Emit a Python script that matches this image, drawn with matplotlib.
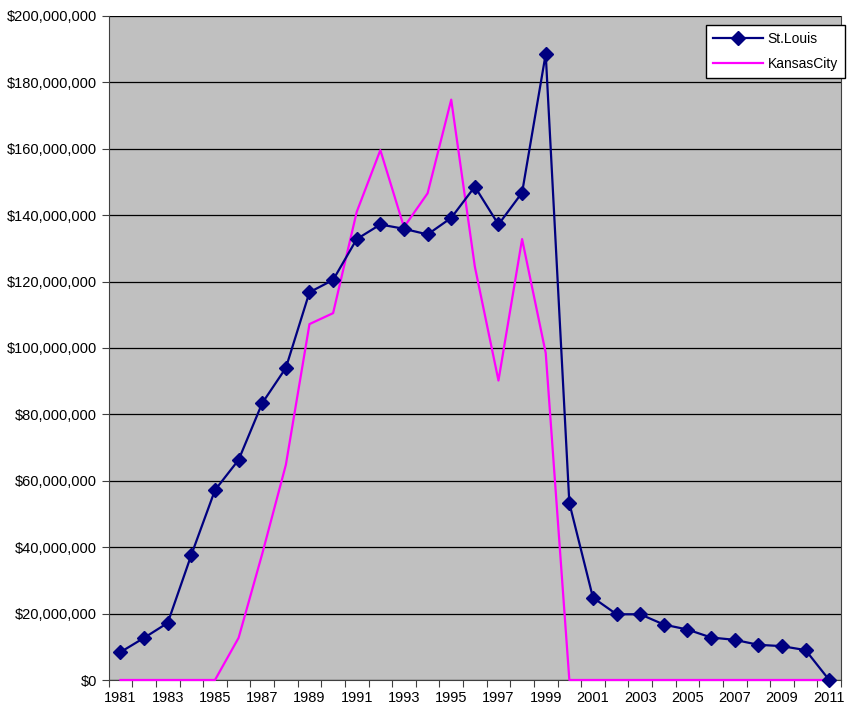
import matplotlib
matplotlib.use("Agg")
import matplotlib.pyplot as plt
from matplotlib.ticker import FuncFormatter, MultipleLocator

plt.rcParams["font.family"] = ["Liberation Sans", "DejaVu Sans"]

years = list(range(1981, 2012))

# dollars per year, in millions
st_louis = [8.4, 12.7, 17.2, 37.7, 57.2, 66.3, 83.4, 94.0, 116.8, 120.5,
            132.8, 137.2, 135.9, 134.2, 139.2, 148.6, 137.2, 146.8, 188.6, 53.3,
            24.8, 19.8, 19.8, 16.7, 15.2, 12.8, 12.1, 10.6, 10.2, 9.0, 0.0]
kansas_city = [0, 0, 0, 0, 0, 12.7, 38.0, 64.8, 107.2, 110.5,
               141.0, 159.6, 136.4, 146.6, 174.8, 124.5, 90.2, 132.8, 98.5, 0,
               0, 0, 0, 0, 0, 0, 0, 0, 0, 0, 0]

st_louis = [v * 1e6 for v in st_louis]
kansas_city = [v * 1e6 for v in kansas_city]

fig = plt.figure(figsize=(8.49, 7.11), dpi=100)
ax = fig.add_axes([0.128, 0.0436, 0.8626, 0.9339])
ax.set_facecolor("#C0C0C0")

ax.plot(years, st_louis, color="#000080", lw=1.6, marker="D", ms=7.5,
        label="St.Louis", zorder=3, clip_on=False)
# drawn over the bottom spine so the zero stretches stay visible
ax.plot(years, kansas_city, color="#FF00FF", lw=1.6, label="KansasCity",
        zorder=2.6, clip_on=False)

ax.set_xlim(1980.5, 2011.5)
ax.set_ylim(0, 200e6)

ax.yaxis.set_major_locator(MultipleLocator(20e6))
ax.yaxis.set_major_formatter(FuncFormatter(lambda v, p: "${:,.0f}".format(v)))
ax.grid(axis="y", color="black", lw=0.9)
ax.set_axisbelow(True)

# ticks sit between years, labels on every other year
ax.set_xticks([y + 0.5 for y in range(1980, 2012)])
ax.set_xticklabels([])
ax.set_xticks(years[::2], minor=True)
ax.set_xticklabels([str(y) for y in years[::2]], minor=True)
ax.tick_params(axis="x", which="minor", length=0, labelsize=10.5, pad=8)
ax.tick_params(axis="x", which="major", length=5, color="#404040")
ax.tick_params(axis="y", length=5, labelsize=10.5, color="#404040")

ax.spines["top"].set_visible(False)
for s in ["left", "bottom", "right"]:
    ax.spines[s].set_color("#404040")

leg = ax.legend(loc="upper right", bbox_to_anchor=(1.005, 0.986), fontsize=10,
                fancybox=False, framealpha=1, edgecolor="black",
                borderaxespad=0, handlelength=3.6, handletextpad=0.3,
                borderpad=0.5, labelspacing=0.75)
leg.get_frame().set_linewidth(1)
leg.set_zorder(5)

plt.savefig("out.png", dpi=100)
